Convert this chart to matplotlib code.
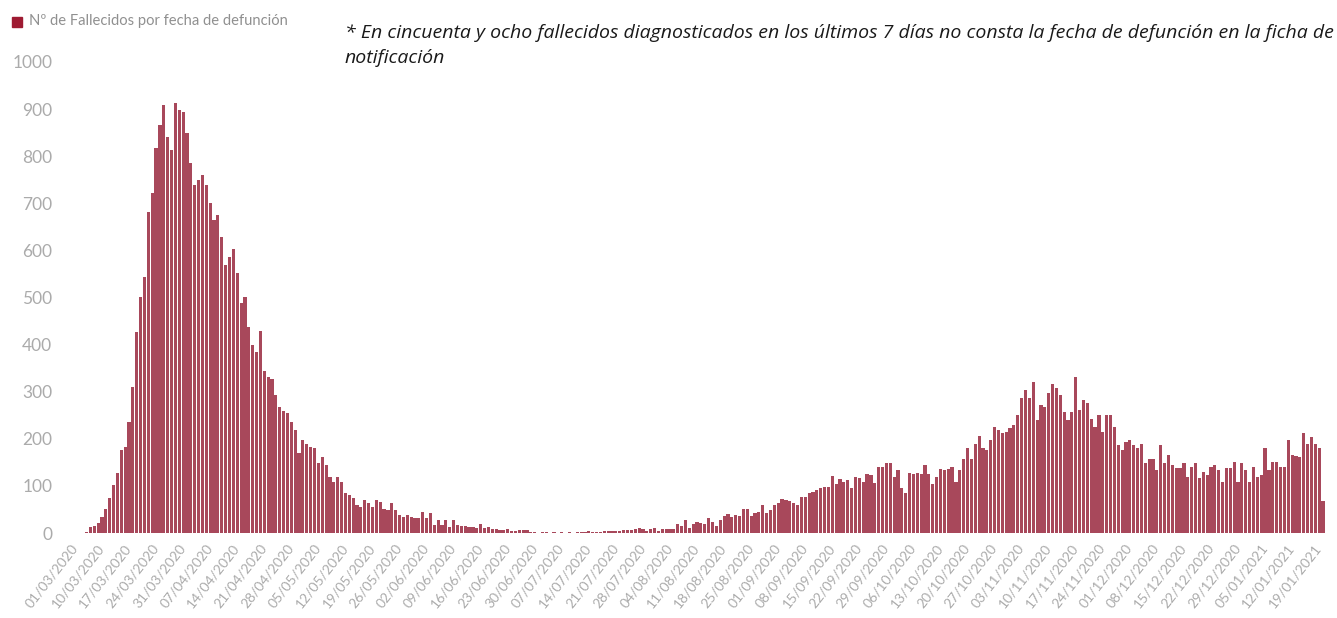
import numpy as np
import pandas as pd
import matplotlib
matplotlib.use("Agg")
import matplotlib.pyplot as plt
from matplotlib.patches import Rectangle

# fechas: 01/03/2020 y luego diario desde 04/03/2020 hasta 20/01/2021
fechas = ['01/03/2020'] + [d.strftime('%d/%m/%Y') for d in pd.date_range('2020-03-04', '2021-01-20')]

# primera ola (01/03 - 12/05 aprox)
ola1 = [1, 0, 1, 2, 13, 14, 21, 34, 52, 74, 102, 127, 176, 183, 236, 310, 427, 501, 544, 682,
        721, 817, 866, 909, 841, 813, 912, 898, 894, 849, 785, 739, 749, 760, 739, 700, 665, 675, 629, 570,
        587, 604, 551, 488, 502, 438, 399, 385, 428, 343, 332, 328, 293, 268, 258, 254, 236, 219, 169, 197,
        190, 183, 180, 148, 162, 144, 120, 109, 120, 109, 84, 81, 74, 60]

# verano
valle = [56, 70, 63, 56, 70, 66, 52, 49, 63, 49, 38, 35, 38, 35, 31, 31, 45, 31, 42, 17,
         28, 17, 28, 13, 28, 17, 15, 15, 13, 13, 10, 19, 10, 13, 8, 8, 6, 6, 8, 5,
         4, 6, 6, 6, 3, 3, 1, 3, 3, 1, 2, 1, 2, 1, 2, 1, 2, 3, 2, 4,
         2, 2, 3, 4, 4, 4, 4, 5, 6, 6, 6, 8, 10, 8]

# segunda ola (agosto - octubre)
ola2 = [5, 8, 10, 5, 8, 8, 9, 8, 19, 15, 28, 10, 19, 24, 21, 19, 31, 24, 15, 28,
        36, 41, 34, 38, 36, 50, 52, 36, 43, 45, 59, 43, 49, 59, 64, 73, 70, 69, 64, 59,
        76, 77, 86, 88, 91, 95, 97, 98, 122, 104, 114, 109, 112, 95, 118, 116, 109, 125, 123, 107,
        141, 141, 148, 149, 120, 134, 95, 84, 127]

# tercera (octubre - enero)
ola3 = [126, 128, 126, 144, 126, 105, 120, 135, 134, 135, 140, 109, 134, 158, 180, 158, 190, 205, 180, 176,
        197, 226, 219, 212, 215, 222, 229, 250, 286, 304, 286, 321, 240, 272, 268, 297, 316, 307, 293, 257,
        240, 257, 332, 261, 283, 276, 243, 226, 250, 215, 250, 250, 226, 187, 176, 194, 197, 187, 180, 190,
        148, 158, 158, 134, 187, 148, 165, 144, 137, 137, 149, 120, 141, 148, 116, 130, 123, 141, 144, 134,
        109, 137, 137, 151, 109, 149, 134, 109, 141, 120, 123, 180, 134, 151, 151, 140, 140, 197, 165, 163,
        162, 212, 190, 203, 190, 180, 68]

fallecidos = ola1 + valle + ola2 + ola3
n = len(fallecidos)
x = np.arange(n)

rojo = '#a8485b'
gris = '#ababab'

fig = plt.figure(figsize=(13.37, 6.18), dpi=100)
ax = fig.add_axes([0.0546, 0.1375, 0.9364, 0.7622])

ax.bar(x, fallecidos, width=0.82, color=rojo, linewidth=0)

ax.set_xlim(-0.5, n - 0.5)
ax.set_ylim(0, 1000)
ax.set_yticks(range(0, 1001, 100))
ax.set_yticklabels([str(v) for v in range(0, 1001, 100)], fontsize=12.5, color=gris, family='Lato')
ax.tick_params(axis='y', length=0, pad=15)

ticks = list(range(0, n, 7))
ax.set_xticks(ticks)
ax.set_xticklabels([fechas[i] for i in ticks], rotation=52, ha='right', va='center',
                   rotation_mode='anchor', fontsize=10, color=gris, family='Lato')
ax.tick_params(axis='x', length=0, pad=9)

for s in ax.spines.values():
    s.set_visible(False)

# leyenda
fig.patches.append(Rectangle((12 / 1337, 1 - 27 / 618), 10 / 1337, 10 / 618,
                             transform=fig.transFigure, color='#9e1b32'))
fig.text(29 / 1337, 1 - 21 / 618, 'Nº de Fallecidos por fecha de defunción',
         fontsize=10.6, color='#909090', family='Lato', va='center')

# nota
fig.text(345 / 1337, 1 - 33 / 618,
         '* En cincuenta y ocho fallecidos diagnosticados en los últimos 7 días no consta la fecha de defunción en la ficha de',
         fontsize=14, style='italic', color='#1a1a1a', family='Open Sans', va='center')
fig.text(345 / 1337, 1 - 58 / 618, 'notificación',
         fontsize=14, style='italic', color='#1a1a1a', family='Open Sans', va='center')

fig.savefig('out.png', dpi=100)
